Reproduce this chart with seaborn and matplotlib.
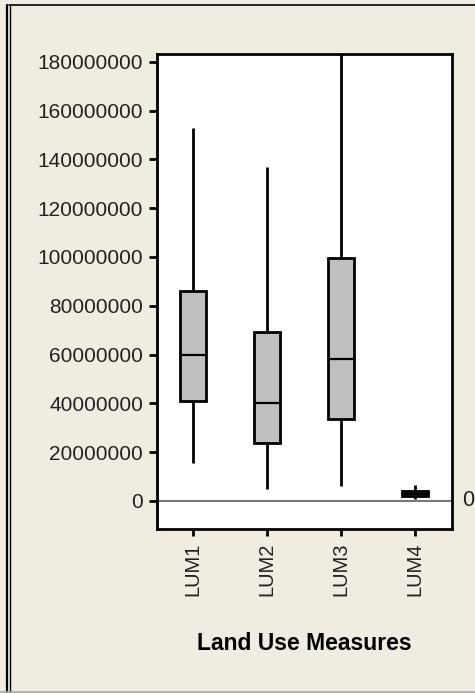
import numpy as np
import pandas as pd
import matplotlib
matplotlib.use("Agg")
import matplotlib.pyplot as plt
from matplotlib.lines import Line2D
from matplotlib.ticker import FuncFormatter
import seaborn as sns

categories = ["LUM1", "LUM2", "LUM3", "LUM4"]
# five-number summaries: min, q1, median, q3, max
lum_min = [15.4e6, 4.8e6, 6.3e6, 0.8e6]
lum_q1 = [41.1e6, 23.9e6, 33.6e6, 2.0e6]
lum_med = [60.0e6, 40.2e6, 58.3e6, 3.0e6]
lum_q3 = [86.2e6, 69.1e6, 99.6e6, 4.2e6]
lum_max = [153.0e6, 136.8e6, 195.0e6, 6.7e6]
y_ticks = list(range(0, 180000001, 20000000))

rows = []
for i, cat in enumerate(categories):
    for v in (lum_min[i], lum_q1[i], lum_med[i], lum_q3[i], lum_max[i]):
        rows.append({"measure": cat, "value": v})
df = pd.DataFrame(rows)

bg = "#F0ECE2"
sns.set_theme(style="white")
plt.rcParams["font.family"] = ["Liberation Sans", "DejaVu Sans"]

fig = plt.figure(figsize=(4.75, 6.93), dpi=100, facecolor=bg)
ax = fig.add_axes([157 / 475, 1 - 529 / 693, 295 / 475, 475 / 693])
ax.set_facecolor("white")

sns.boxplot(data=df, x="measure", y="value", order=categories, ax=ax,
            whis=(0, 100), width=0.35, color="#C0C0C0", linecolor="black",
            linewidth=2, showcaps=False, fliersize=0,
            medianprops=dict(linewidth=1.6, color="black"))

ax.axhline(0, color="#7A7A7A", linewidth=1.5, zorder=0.5)
ax.text(1.035, 0, "0", transform=ax.get_yaxis_transform(), ha="left",
        va="center", fontsize=15.5, color="#222222", clip_on=False)

ax.set_xlim(-0.49, 3.5)
ax.set_ylim(-11.5e6, 183.2e6)
ax.set_yticks(y_ticks)
ax.yaxis.set_major_formatter(FuncFormatter(lambda v, p: f"{int(v)}"))
ax.tick_params(axis="y", which="major", left=True, length=6, width=2,
               pad=4, labelsize=15, labelcolor="#222222", color="black")
ax.tick_params(axis="x", which="major", bottom=True, length=5, width=2,
               pad=5, labelsize=14.5, labelcolor="#222222", color="black",
               labelrotation=90)
for s in ax.spines.values():
    s.set_linewidth(2)
    s.set_color("black")

ax.set_ylabel("")
ax.set_xlabel("Land Use Measures", fontsize=16.5, fontweight="bold",
              labelpad=26, color="black")

# window frame decorations
fig.add_artist(Line2D([9 / 475, 1], [1 - 4.5 / 693] * 2,
                      transform=fig.transFigure, color="black", linewidth=1.2))
fig.add_artist(Line2D([7 / 475] * 2, [0, 1 - 4.5 / 693],
                      transform=fig.transFigure, color="black", linewidth=1.6))
fig.add_artist(Line2D([9.8 / 475] * 2, [0, 1 - 4.5 / 693],
                      transform=fig.transFigure, color="black", linewidth=1.0))
fig.add_artist(Line2D([0, 1], [0.8 / 693] * 2,
                      transform=fig.transFigure, color="#A8A8A8", linewidth=1.2))

fig.savefig("out.png", dpi=100, facecolor=bg)
